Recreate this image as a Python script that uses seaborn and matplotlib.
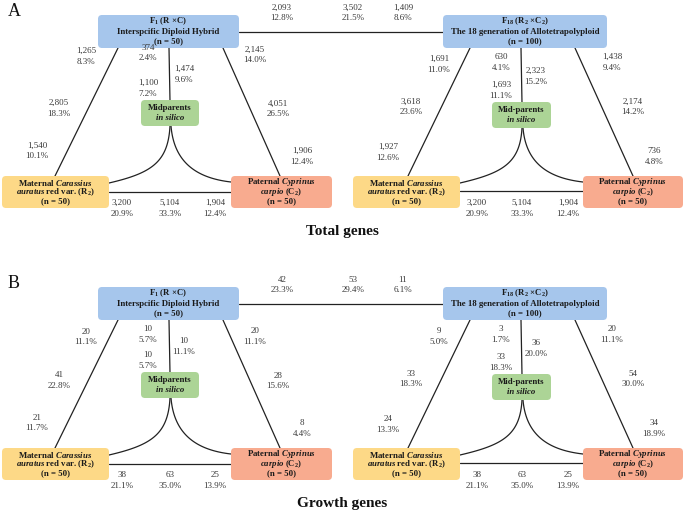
import numpy as np
import matplotlib
matplotlib.use("Agg")
import matplotlib.pyplot as plt
import seaborn as sns
from matplotlib.patches import FancyBboxPatch

# ==============================
# Data: counts and percentages
# order of triangle labels:
# apex-maternal, apex-mid (upper), mid-right, apex-mid (lower), apex-paternal,
# middle maternal, middle paternal, low maternal, low paternal,
# bottom left, bottom middle, bottom right
# ==============================
total_top_n = [2093, 3502, 1409]
total_top_pct = [12.8, 21.5, 8.6]
total_f1_n = [1265, 374, 1474, 1100, 2145, 2805, 4051, 1540, 1906, 3200, 5104, 1904]
total_f1_pct = [8.3, 2.4, 9.6, 7.2, 14.0, 18.3, 26.5, 10.1, 12.4, 20.9, 33.3, 12.4]
total_f18_n = [1691, 630, 2323, 1693, 1438, 3618, 2174, 1927, 736, 3200, 5104, 1904]
total_f18_pct = [11.0, 4.1, 15.2, 11.1, 9.4, 23.6, 14.2, 12.6, 4.8, 20.9, 33.3, 12.4]

growth_top_n = [42, 53, 11]
growth_top_pct = [23.3, 29.4, 6.1]
growth_f1_n = [20, 10, 10, 10, 20, 41, 28, 21, 8, 38, 63, 25]
growth_f1_pct = [11.1, 5.7, 11.1, 5.7, 11.1, 22.8, 15.6, 11.7, 4.4, 21.1, 35.0, 13.9]
growth_f18_n = [9, 3, 36, 33, 20, 33, 54, 24, 34, 38, 63, 25]
growth_f18_pct = [5.0, 1.7, 20.0, 18.3, 11.1, 18.3, 30.0, 13.3, 18.9, 21.1, 35.0, 13.9]

panel_letters = ["A", "B"]
panel_titles = ["Total genes", "Growth genes"]

f1_lines = [r"F$_{\mathbf{1}}$ (R $\times$C)", "Interspcific Diploid Hybrid", "(n = 50)"]
f18_lines = [r"F$_{\mathbf{18}}$ (R$_{\mathbf{2}}$ $\times$C$_{\mathbf{2}}$)",
             "The 18 generation of Allotetrapolyploid", "(n = 100)"]
mid_left_lines = ["Midparents", "in silico"]
mid_right_lines = ["Mid-parents", "in silico"]
mat_lines = [r"Maternal $\mathbfit{Carassius}$",
             r"$\mathbfit{auratus}$ red var. (R$_{\mathbf{2}}$)", "(n = 50)"]
pat_lines = [r"Paternal $\mathbfit{Cyprinus}$",
             r"$\mathbfit{carpio}$ (C$_{\mathbf{2}}$)", "(n = 50)"]

# ==============================
# Layout (pixel coordinates, panel A; panel B is shifted down)
# ==============================
PANEL_DY = [0, 272]
C_BLUE, C_GREEN, C_YEL, C_SAL = "#a6c6ec", "#acd496", "#fdd987", "#f8ab8f"

sns.set_theme(style="white")
plt.rcParams["font.family"] = ["Liberation Serif", "DejaVu Serif"]
plt.rcParams["mathtext.fontset"] = "custom"
plt.rcParams["mathtext.rm"] = "Liberation Serif:bold"
plt.rcParams["mathtext.bf"] = "Liberation Serif:bold"
plt.rcParams["mathtext.it"] = "Liberation Serif:italic"
plt.rcParams["mathtext.bfit"] = "Liberation Serif:bold:italic"

fig = plt.figure(figsize=(6.85, 5.12), dpi=100)
ax = fig.add_axes([0, 0, 1, 1])
ax.set_xlim(0, 685)
ax.set_ylim(512, 0)
ax.axis("off")

LINE = "#222222"
TXT = "#3a3a3a"


def box(x, y, w, h, color, lines, dy_line, italic_last=False):
    p = FancyBboxPatch((x, y), w, h, boxstyle="round,pad=0,rounding_size=4",
                       fc=color, ec="none", zorder=3)
    ax.add_patch(p)
    n = len(lines)
    y0 = y + h / 2 - dy_line * (n - 1) / 2
    for i, s in enumerate(lines):
        style = "italic" if (italic_last and i == n - 1) else "normal"
        ax.text(x + w / 2, y0 + i * dy_line, s, ha="center", va="center",
                fontsize=6.3, fontweight="bold", fontstyle=style, color="#1a1a1a", zorder=4)


def seg(p0, p1, dy):
    ax.plot([p0[0], p1[0]], [p0[1] + dy, p1[1] + dy], color=LINE, lw=0.9, zorder=2)


def curve(pts, dy):
    t = np.linspace(0, 1, 60)[:, None]
    P = np.array(pts, dtype=float)
    b = ((1 - t) ** 3) * P[0] + 3 * ((1 - t) ** 2) * t * P[1] + 3 * (1 - t) * t ** 2 * P[2] + t ** 3 * P[3]
    ax.plot(b[:, 0], b[:, 1] + dy, color=LINE, lw=0.9, zorder=2)


def label(x, y, n, pct):
    ax.text(x, y, f"{n:,}", ha="center", va="center", fontsize=6.5, color=TXT)
    ax.text(x, y + 10.5, f"{pct:.1f}%", ha="center", va="center", fontsize=6.5, color=TXT)


# label positions (x, y of count line)
left_pos = [(86, 60), (148, 57), (184, 69), (148, 83), (255, 59), (59, 103), (278, 104),
            (37, 146), (302, 151), (122, 203), (170, 203), (215, 203)]
right_pos = [(439, 59), (501, 57), (536, 71), (501, 85), (612, 57), (411, 102), (633, 102),
             (388, 147), (654, 151), (477, 203), (522, 203), (568, 203)]
top_pos = [(282, 8), (353, 8), (403, 8)]

data = [
    (total_top_n, total_top_pct, total_f1_n, total_f1_pct, total_f18_n, total_f18_pct),
    (growth_top_n, growth_top_pct, growth_f1_n, growth_f1_pct, growth_f18_n, growth_f18_pct),
]

for k in range(2):
    dy = PANEL_DY[k]
    top_n, top_pct, f1_n, f1_pct, f18_n, f18_pct = data[k]

    ax.text(8, 12 + dy, panel_letters[k], ha="left", va="center", fontsize=13, color="#111111")
    ax.text(342, 231 + dy, panel_titles[k], ha="center", va="center", fontsize=11,
            fontweight="bold", color="#111111")

    # connectors
    seg((239, 32), (443, 32), dy)
    # left triangle
    seg((118, 48), (55, 176), dy)
    seg((223, 48), (280, 176), dy)
    seg((169, 48), (170, 101), dy)
    seg((109, 192), (231, 192), dy)
    curve([(170, 126), (168, 162), (152, 173), (109, 183)], dy)
    curve([(171, 126), (174, 162), (196, 178), (231, 182)], dy)
    # right triangle
    seg((470, 48), (408, 176), dy)
    seg((575, 48), (633, 176), dy)
    seg((521, 48), (522, 103), dy)
    seg((460, 191), (583, 191), dy)
    curve([(522, 128), (520, 163), (503, 173), (460, 183)], dy)
    curve([(523, 128), (526, 163), (548, 178), (583, 182)], dy)

    # boxes
    box(98, 15 + dy, 141, 33, C_BLUE, f1_lines, 10)
    box(443, 15 + dy, 164, 33, C_BLUE, f18_lines, 10)
    box(141, 100 + dy, 58, 26, C_GREEN, mid_left_lines, 10, italic_last=True)
    box(492, 102 + dy, 59, 26, C_GREEN, mid_right_lines, 10, italic_last=True)
    box(2, 176 + dy, 107, 32, C_YEL, mat_lines, 9.5)
    box(353, 176 + dy, 107, 32, C_YEL, mat_lines, 9.5)
    box(231, 176 + dy, 101, 32, C_SAL, pat_lines, 9.5)
    box(583, 176 + dy, 100, 32, C_SAL, pat_lines, 9.5)

    # numbers
    for (x, y), n, p in zip(top_pos, top_n, top_pct):
        label(x, y + dy, n, p)
    for i, ((x, y), n, p) in enumerate(zip(left_pos, f1_n, f1_pct)):
        if k == 0 and i in (0, 1, 4):
            y -= 9
        label(x, y + dy, n, p)
    for (x, y), n, p in zip(right_pos, f18_n, f18_pct):
        label(x, y + dy, n, p)

fig.savefig("out.png", dpi=100)
